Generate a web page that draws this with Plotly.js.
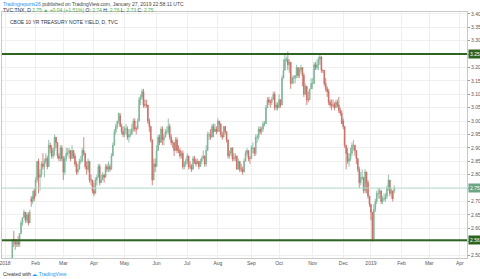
<!DOCTYPE html>
<html><head><meta charset="utf-8">
<script src="https://cdn.plot.ly/plotly-3.0.1.min.js"></script>
<style>html,body{margin:0;padding:0;background:#fff}#c{width:480px;height:279px}</style>
</head><body><div id="c"></div>
<script>
// Daily bars, TVC:TNX, 2 Jan 2018 .. 25 Jan 2019 (bar index = trading day)
const openV = [
2.41,2.46,2.45,2.45,2.48,2.48,2.56,2.55,2.54,2.55,2.54,2.58,2.62,2.64,2.66,2.63,2.65,2.62,2.71,2.70,2.74,
2.72,2.78,2.85,2.79,2.80,2.84,2.83,2.85,2.86,2.83,2.91,2.90,2.87,2.89,2.94,2.92,2.87,2.86,2.90,
2.86,2.81,2.86,2.88,2.88,2.89,2.86,2.89,2.87,2.84,2.81,2.82,2.85,2.85,2.89,2.88,2.83,2.82,2.85,2.78,2.78,
2.74,2.73,2.78,2.79,2.83,2.77,2.78,2.80,2.79,2.83,2.82,2.83,2.82,2.87,2.91,2.96,2.98,3.00,3.02,2.98,2.96,
2.95,2.97,2.97,2.94,2.95,2.95,2.97,3.00,2.97,2.97,3.00,3.08,3.09,3.11,3.06,3.06,3.06,3.00,2.98,2.93,2.78,2.84,
2.83,2.89,2.94,2.92,2.97,2.93,2.94,2.96,2.96,2.98,2.94,2.92,2.92,2.89,2.93,2.89,2.89,2.87,2.88,2.83,2.84,
2.85,2.87,2.83,2.83,2.82,2.86,2.85,2.84,2.85,2.83,2.85,2.86,2.87,2.84,2.89,2.95,2.95,2.94,2.98,2.96,2.97,
2.96,3.00,2.99,2.95,2.94,2.98,2.96,2.93,2.87,2.88,2.90,2.86,2.86,2.87,2.82,2.85,2.82,2.82,2.81,2.85,2.88,2.89,2.86,
2.86,2.90,2.90,2.88,2.94,2.94,2.97,2.96,2.97,2.99,2.99,3.05,3.08,3.07,3.07,3.08,3.10,3.05,3.06,
3.05,3.08,3.06,3.16,3.19,3.23,3.23,3.21,3.22,3.14,3.16,3.16,3.17,3.20,3.17,3.19,3.20,3.17,3.10,3.13,3.08,3.08,3.12,
3.14,3.14,3.21,3.20,3.21,3.23,3.24,3.19,3.19,3.14,3.12,3.11,3.07,3.06,3.06,3.06,3.05,3.07,3.06,3.04,3.03,
3.00,2.98,2.91,2.88,2.85,2.86,2.88,2.91,2.91,2.89,2.86,2.82,2.77,2.79,2.79,2.74,2.81,2.77,2.72,
2.69,2.66,2.56,2.67,2.70,2.73,2.73,2.74,2.70,2.71,2.71,2.72,2.75,2.78,2.73,2.74,2.74];
const highV = [
2.47,2.47,2.47,2.49,2.49,2.56,2.59,2.56,2.56,2.57,2.58,2.63,2.64,2.67,2.66,2.66,2.66,2.67,2.72,2.74,2.75,
2.79,2.85,2.86,2.82,2.85,2.88,2.86,2.88,2.87,2.93,2.92,2.91,2.90,2.95,2.94,2.92,2.88,2.91,2.91,
2.87,2.87,2.90,2.90,2.90,2.89,2.91,2.89,2.88,2.85,2.84,2.86,2.87,2.90,2.94,2.88,2.85,2.86,2.85,2.80,2.78,
2.77,2.79,2.80,2.84,2.84,2.80,2.81,2.80,2.84,2.84,2.85,2.84,2.88,2.92,2.97,2.99,3.00,3.03,3.03,2.99,2.98,
2.98,2.99,2.98,2.97,2.97,2.99,3.01,3.01,2.98,3.01,3.09,3.10,3.12,3.12,3.08,3.08,3.06,3.01,2.98,2.93,2.86,2.86,
2.91,2.95,2.95,2.98,2.98,2.95,2.97,2.98,3.01,2.99,2.95,2.93,2.92,2.94,2.94,2.91,2.90,2.89,2.89,2.85,2.86,
2.88,2.87,2.85,2.84,2.87,2.87,2.86,2.86,2.85,2.86,2.87,2.89,2.87,2.91,2.96,2.96,2.97,2.99,2.99,2.99,2.98,
3.01,3.00,2.99,2.96,2.98,2.98,2.96,2.93,2.89,2.90,2.90,2.88,2.88,2.87,2.86,2.85,2.84,2.83,2.86,2.89,2.90,2.89,2.87,
2.91,2.92,2.90,2.95,2.95,2.98,2.98,2.98,3.00,3.00,3.06,3.09,3.09,3.08,3.09,3.11,3.11,3.07,3.07,
3.10,3.08,3.17,3.23,3.25,3.24,3.26,3.23,3.22,3.17,3.17,3.17,3.21,3.20,3.20,3.21,3.20,3.18,3.14,3.13,3.11,3.12,3.16,
3.16,3.22,3.22,3.23,3.24,3.25,3.24,3.19,3.19,3.16,3.13,3.12,3.08,3.08,3.08,3.07,3.08,3.08,3.09,3.05,3.04,
3.01,2.98,2.91,2.90,2.88,2.90,2.92,2.93,2.91,2.89,2.86,2.83,2.81,2.82,2.79,2.82,2.81,2.78,2.72,
2.69,2.66,2.69,2.71,2.74,2.75,2.75,2.74,2.72,2.73,2.73,2.76,2.80,2.78,2.75,2.74,2.76];
const lowV = [
2.41,2.43,2.44,2.45,2.46,2.48,2.53,2.52,2.53,2.53,2.53,2.58,2.61,2.64,2.62,2.62,2.61,2.62,2.68,2.69,2.70,
2.72,2.77,2.73,2.74,2.79,2.82,2.79,2.84,2.82,2.83,2.88,2.86,2.86,2.87,2.90,2.86,2.85,2.85,2.85,
2.78,2.80,2.85,2.87,2.86,2.85,2.86,2.86,2.83,2.80,2.80,2.82,2.84,2.85,2.87,2.82,2.80,2.81,2.77,2.76,2.73,
2.72,2.73,2.76,2.79,2.76,2.77,2.78,2.77,2.79,2.81,2.81,2.81,2.82,2.87,2.91,2.95,2.97,2.99,2.98,2.95,2.94,
2.94,2.95,2.93,2.92,2.94,2.95,2.96,2.96,2.95,2.97,3.00,3.06,3.08,3.05,3.05,3.05,2.99,2.96,2.92,2.76,2.78,2.81,
2.83,2.89,2.91,2.92,2.91,2.91,2.94,2.95,2.95,2.93,2.91,2.90,2.87,2.89,2.88,2.88,2.86,2.86,2.82,2.82,2.83,
2.84,2.82,2.82,2.81,2.82,2.84,2.83,2.84,2.82,2.83,2.84,2.86,2.83,2.83,2.89,2.93,2.93,2.94,2.94,2.96,2.95,
2.96,2.96,2.94,2.93,2.94,2.95,2.92,2.86,2.86,2.87,2.85,2.85,2.85,2.82,2.82,2.81,2.81,2.80,2.81,2.85,2.87,2.85,2.84,
2.86,2.88,2.87,2.87,2.92,2.93,2.95,2.95,2.96,2.98,2.99,3.05,3.06,3.05,3.06,3.08,3.04,3.04,3.04,
3.05,3.05,3.06,3.16,3.19,3.22,3.19,3.18,3.12,3.14,3.14,3.14,3.16,3.16,3.16,3.18,3.13,3.09,3.10,3.06,3.07,3.08,3.12,
3.12,3.14,3.19,3.19,3.19,3.21,3.18,3.18,3.13,3.11,3.09,3.06,3.05,3.04,3.05,3.04,3.05,3.05,3.03,3.02,2.99,
2.97,2.90,2.82,2.84,2.83,2.85,2.87,2.89,2.87,2.84,2.81,2.75,2.76,2.78,2.73,2.73,2.73,2.71,2.68,
2.63,2.55,2.56,2.66,2.69,2.71,2.71,2.69,2.69,2.70,2.70,2.71,2.74,2.72,2.71,2.70,2.73];
const closeV = [
2.46,2.45,2.45,2.48,2.48,2.55,2.55,2.54,2.55,2.54,2.58,2.62,2.64,2.66,2.63,2.65,2.62,2.66,2.70,2.72,2.71,
2.78,2.85,2.79,2.80,2.84,2.83,2.85,2.86,2.83,2.91,2.90,2.87,2.89,2.94,2.92,2.87,2.86,2.90,2.86,
2.81,2.86,2.88,2.88,2.89,2.86,2.89,2.87,2.84,2.81,2.82,2.85,2.85,2.89,2.88,2.83,2.82,2.85,2.78,2.78,2.74,
2.73,2.78,2.79,2.83,2.77,2.78,2.80,2.79,2.83,2.82,2.83,2.82,2.87,2.91,2.96,2.98,3.00,3.03,2.98,2.96,2.95,
2.97,2.97,2.94,2.95,2.95,2.97,3.00,2.97,2.97,3.00,3.08,3.09,3.11,3.06,3.06,3.06,3.00,2.98,2.93,2.78,2.84,2.83,
2.89,2.94,2.92,2.97,2.93,2.94,2.96,2.96,2.98,2.94,2.92,2.92,2.89,2.93,2.89,2.89,2.87,2.88,2.83,2.84,2.85,
2.87,2.83,2.83,2.82,2.86,2.85,2.84,2.85,2.83,2.85,2.86,2.87,2.84,2.89,2.95,2.95,2.94,2.98,2.96,2.97,2.96,
3.00,2.99,2.95,2.94,2.98,2.96,2.93,2.87,2.88,2.90,2.86,2.86,2.87,2.82,2.85,2.82,2.82,2.81,2.85,2.88,2.89,2.86,2.86,
2.90,2.90,2.88,2.94,2.94,2.97,2.96,2.97,2.99,2.99,3.05,3.08,3.07,3.07,3.08,3.10,3.05,3.06,3.05,
3.08,3.06,3.16,3.19,3.23,3.23,3.21,3.22,3.14,3.16,3.16,3.17,3.20,3.17,3.19,3.20,3.17,3.10,3.13,3.08,3.08,3.12,3.14,
3.14,3.21,3.20,3.21,3.23,3.24,3.19,3.19,3.14,3.12,3.11,3.07,3.06,3.06,3.06,3.05,3.07,3.06,3.04,3.03,2.99,
2.98,2.91,2.88,2.85,2.86,2.88,2.91,2.91,2.89,2.86,2.82,2.77,2.79,2.79,2.74,2.81,2.77,2.72,2.69,
2.66,2.56,2.67,2.70,2.73,2.73,2.74,2.70,2.71,2.71,2.72,2.75,2.78,2.73,2.74,2.71,2.75];

// month ticks (bar index of first trading day of each month)
const monthTickIdx  = [0,21,40,61,82,104,125,146,169,188,211,232,251,272,291,312];
const monthTickText = ["2018","Feb","Mar","Apr","May","Jun","Jul","Aug","Sep","Oct","Nov","Dec","2019","Feb","Mar","Apr"];

// drawn horizontal levels and their labels
const levelValues = [3.25, 2.555];
const levelLabels = ["3.25", "2.56"];
const lastPrice = 2.75;
const lastLabel = "2.75";

const barIdx = closeV.map((_, i) => i);

const FONT = "Liberation Sans, Arial, sans-serif";
const dkGreen = "#2f6420";

const shapes = levelValues.map(v => ({
  type: "line", xref: "paper", x0: 0, x1: 1, yref: "y", y0: v, y1: v,
  line: {color: dkGreen, width: 2}
}));
shapes.unshift({
  type: "line", xref: "paper", x0: 0, x1: 1, yref: "y", y0: lastPrice, y1: lastPrice,
  line: {color: "#b4dccf", width: 1}
});

const annotations = levelValues.map((v, k) => ({
  xref: "paper", x: 1.002, xanchor: "left", yref: "y", y: v, yanchor: "middle",
  text: levelLabels[k], showarrow: false, bgcolor: dkGreen, borderpad: 1,
  font: {family: FONT, size: 5, color: "#fff"}
}));
annotations.push({
  xref: "paper", x: 1.002, xanchor: "left", yref: "y", y: lastPrice, yanchor: "middle",
  text: lastLabel, showarrow: false, bgcolor: "#6ba583", borderpad: 1,
  font: {family: FONT, size: 5, color: "#fff"}
});
annotations.push(
  {xref: "paper", yref: "paper", x: -0.003, y: 1.033, xanchor: "left", yanchor: "middle", showarrow: false,
   text: '<span style="color:#2196f3">Tradingreports26</span> published on TradingView.com, January 27, 2019 22:58:11 UTC',
   font: {family: FONT, size: 5, color: "#444"}},
  {xref: "paper", yref: "paper", x: -0.003, y: 1.009, xanchor: "left", yanchor: "middle", showarrow: false,
   text: 'TVC:TNX, D <span style="color:#4caf50">2.75 ▲ +0.04 (+1.51%)</span> O: <span style="color:#4caf50">2.74</span> H: <span style="color:#4caf50">2.76</span> L: <span style="color:#4caf50">2.73</span> C: <span style="color:#4caf50">2.75</span>',
   font: {family: FONT, size: 5, color: "#333"}},
  {xref: "paper", yref: "paper", x: 0.012, y: 0.96, xanchor: "left", yanchor: "middle", showarrow: false,
   text: 'CBOE 10 YR TREASURY NOTE YIELD, D, TVC',
   font: {family: FONT, size: 5, color: "#333"}},
  {xref: "paper", yref: "paper", x: -0.003, y: -0.065, xanchor: "left", yanchor: "middle", showarrow: false,
   text: 'Created with <span style="color:#2196f3">☁ TradingView</span>',
   font: {family: FONT, size: 5, color: "#333"}}
);

const trace = {
  type: "candlestick", x: barIdx, open: openV, high: highV, low: lowV, close: closeV,
  increasing: {line: {color: "#7ab395", width: 0.8}, fillcolor: "#7ab395"},
  decreasing: {line: {color: "#c86a60", width: 0.8}, fillcolor: "#c86a60"},
  whiskerwidth: 0, hoverinfo: "skip", showlegend: false
};

const layout = {
  width: 480, height: 279,
  margin: {l: 2, r: 13, t: 12, b: 21, pad: 0},
  paper_bgcolor: "#fff", plot_bgcolor: "#fff",
  showlegend: false,
  xaxis: {
    range: [-2.06, 316.9], tickvals: monthTickIdx, ticktext: monthTickText,
    showgrid: true, gridcolor: "#efefef", gridwidth: 1, zeroline: false,
    showline: true, linecolor: "#c8c8c8", linewidth: 1, mirror: true,
    ticks: "", ticklabeloverflow: "allow", tickfont: {family: FONT, size: 5, color: "#555"},
    rangeslider: {visible: false}, fixedrange: true
  },
  yaxis: {
    side: "right", range: [2.489, 3.407], tick0: 2.5, dtick: 0.05, tickformat: ".2f",
    showgrid: true, gridcolor: "#efefef", gridwidth: 1, zeroline: false,
    showline: true, linecolor: "#c8c8c8", linewidth: 1, mirror: true,
    ticks: "outside", ticklen: 2, tickcolor: "#999", ticklabeloverflow: "allow",
    tickfont: {family: FONT, size: 5, color: "#555"}, fixedrange: true
  },
  shapes: shapes,
  annotations: annotations,
  font: {family: FONT}
};

Plotly.newPlot("c", [trace], layout, {staticPlot: true, displayModeBar: false});
</script>
</body></html>
